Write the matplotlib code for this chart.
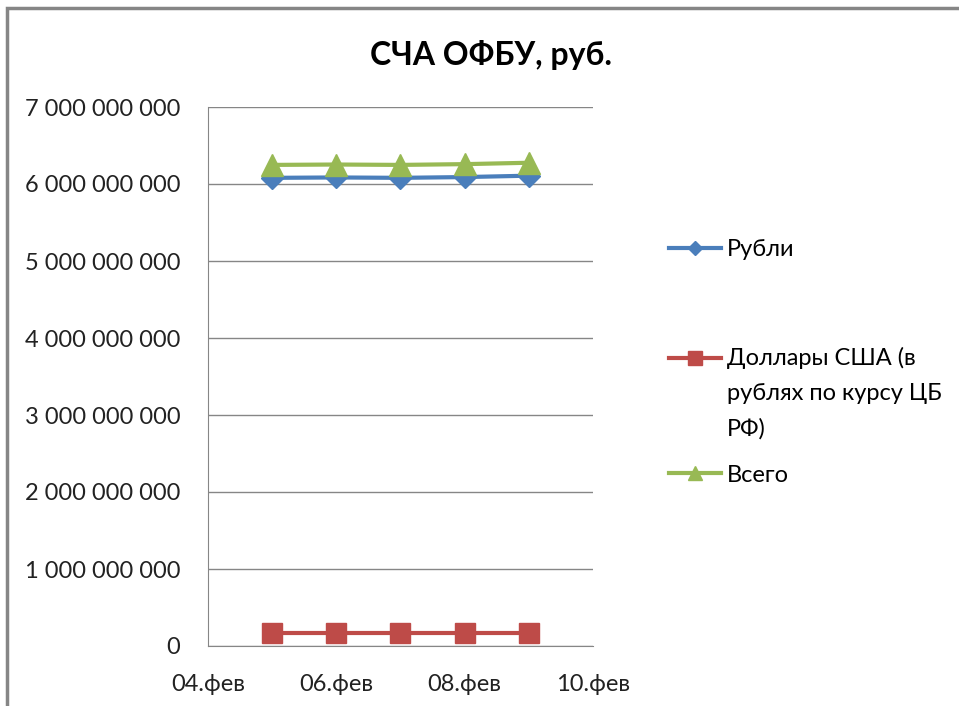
import datetime as dt
import matplotlib
matplotlib.use('Agg')
import matplotlib.pyplot as plt
import matplotlib.dates as mdates
from matplotlib.patches import Rectangle
from matplotlib.ticker import FuncFormatter, MultipleLocator

dates = [dt.date(2011, 2, d) for d in (5, 6, 7, 8, 9)]
rub = [6.080e9, 6.085e9, 6.080e9, 6.090e9, 6.108e9]
usd = [0.168e9, 0.168e9, 0.168e9, 0.168e9, 0.168e9]
total = [6.248e9, 6.253e9, 6.248e9, 6.258e9, 6.276e9]
labels = ['Рубли', 'Доллары США (в\nрублях по курсу ЦБ\nРФ)', 'Всего']
title = 'СЧА ОФБУ, руб.'
months = {2: 'фев'}

plt.rcParams['font.family'] = ['Lato', 'DejaVu Sans']

fig = plt.figure(figsize=(9.59, 7.06), dpi=100)
ax = fig.add_axes([208 / 959, 1 - 646 / 706, (593 - 208) / 959, (646 - 107) / 706])

gray = '#868686'
l1, = ax.plot(dates, rub, color='#4A7EBB', lw=3, marker='D', ms=11, zorder=3)
l2, = ax.plot(dates, usd, color='#BE4B48', lw=3, marker='s', ms=14.5, zorder=3)
l3, = ax.plot(dates, total, color='#98B954', lw=3, marker='^', ms=16, zorder=3)

ax.set_ylim(0, 7e9)
ax.set_xlim(mdates.date2num(dt.date(2011, 2, 4)), mdates.date2num(dt.date(2011, 2, 10)))
ax.yaxis.set_major_locator(MultipleLocator(1e9))
ax.xaxis.set_major_locator(mdates.DayLocator(bymonthday=[4, 6, 8, 10]))
ax.yaxis.set_major_formatter(FuncFormatter(lambda v, p: '{:,.0f}'.format(v).replace(',', ' ')))
ax.xaxis.set_major_formatter(FuncFormatter(
    lambda v, p: '%02d.%s' % (mdates.num2date(v).day, months[mdates.num2date(v).month])))

ax.grid(axis='y', color=gray, lw=1)
ax.set_axisbelow(True)
for s in ('top', 'right'):
    ax.spines[s].set_visible(False)
for s in ('left', 'bottom'):
    ax.spines[s].set_color(gray)
ax.tick_params(axis='both', length=0, labelsize=17, labelcolor='#222222')
ax.tick_params(axis='x', pad=20)
ax.tick_params(axis='y', pad=20)

fig.text(491 / 959, 1 - 55 / 706, title, ha='center', va='center',
         fontsize=23, fontweight='bold')

# legend entries placed separately, like Excel spreads them
common = dict(frameon=False, fontsize=17, borderpad=0, borderaxespad=0,
              handlelength=2.2, handletextpad=0.25)
leg1 = fig.legend([l1], [labels[0]], loc='center left',
                  bbox_to_anchor=(669 / 959, 1 - 250 / 706), **common)
leg2 = fig.legend([l2], [labels[1]], loc='upper left',
                  bbox_to_anchor=(669 / 959, 1 - 347 / 706), handleheight=1.4, **common)
leg3 = fig.legend([l3], [labels[2]], loc='center left',
                  bbox_to_anchor=(669 / 959, 1 - 475 / 706), **common)
for t in leg2.get_texts():
    t.set_linespacing(1.8)
for col in leg2._legend_handle_box.get_children():
    for item in col.get_children():
        item.align = 'top'
for lg in (leg1, leg2, leg3):
    for h in lg.legend_handles:
        h.set_markersize(h.get_markersize() * 0.65)

fig.patches.append(Rectangle((7 / 959, -0.1), 1.2, 1 - 8 / 706 + 0.1, transform=fig.transFigure,
                             fill=False, ec=gray, lw=2.5))

fig.savefig('out.png', dpi=100)
